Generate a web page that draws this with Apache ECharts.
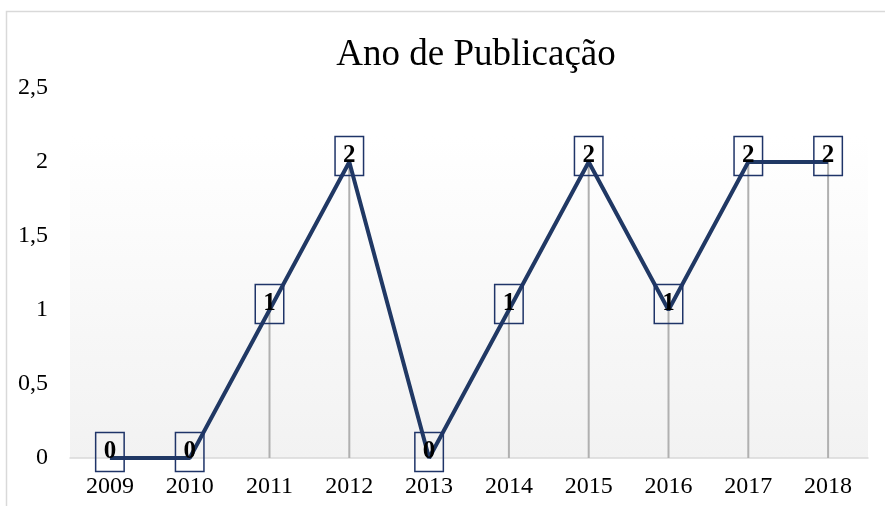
<!DOCTYPE html>
<html>
<head>
<meta charset="utf-8">
<script src="https://cdn.jsdelivr.net/npm/echarts@6/dist/echarts.min.js"></script>
<style>
  html, body { margin: 0; padding: 0; background: #fff; }
  #chart { width: 885px; height: 506px; }
</style>
</head>
<body>
<div id="chart"></div>
<script>
  // dados
  var years = ['2009', '2010', '2011', '2012', '2013', '2014', '2015', '2016', '2017', '2018']
  var counts = [0, 0, 1, 2, 0, 1, 2, 1, 2, 2]
  var yTicks = [0, 0.5, 1, 1.5, 2, 2.5]

  var serif = '"Liberation Serif", "DejaVu Serif", serif'
  var navy = '#203864'

  var chart = echarts.init(document.getElementById('chart'), null, { renderer: 'canvas' })

  var option = {
    animation: false,
    backgroundColor: '#fff',
    title: {
      text: 'Ano de Publicação',
      left: 471,
      top: 32,
      textAlign: 'center',
      textStyle: {
        fontFamily: serif,
        fontSize: 37,
        fontWeight: 'normal',
        color: '#000'
      }
    },
    graphic: [
      {
        type: 'rect',
        shape: { x: 6.5, y: 11.5, width: 900, height: 520 },
        style: { fill: null, stroke: '#d9d9d9', lineWidth: 1.5 },
        z: -10
      }
    ],
    grid: {
      left: 70,
      right: 17,
      top: 88,
      bottom: 48,
      show: true,
      borderWidth: 0,
      backgroundColor: new echarts.graphic.LinearGradient(0, 0, 0, 1, [
        { offset: 0, color: '#ffffff' },
        { offset: 0.13, color: '#ffffff' },
        { offset: 1, color: '#f2f2f2' }
      ])
    },
    xAxis: {
      type: 'category',
      data: years,
      boundaryGap: true,
      axisLine: { lineStyle: { color: '#d9d9d9', width: 1.5 } },
      axisTick: { show: false },
      axisLabel: {
        fontFamily: serif,
        fontSize: 24,
        color: '#000',
        margin: 17
      }
    },
    yAxis: {
      type: 'value',
      min: yTicks[0],
      max: yTicks[yTicks.length - 1],
      interval: 0.5,
      splitLine: { show: false },
      axisLine: { show: false },
      axisTick: { show: false },
      axisLabel: {
        fontFamily: serif,
        fontSize: 24,
        color: '#000',
        margin: 22,
        formatter: function (v) { return String(v).replace('.', ',') }
      }
    },
    series: [
      {
        // linhas de queda até o eixo
        type: 'bar',
        data: counts,
        barWidth: 2,
        itemStyle: { color: '#b0b0b0' },
        silent: true,
        z: 1
      },
      {
        type: 'line',
        data: counts,
        showSymbol: true,
        symbol: 'circle',
        symbolSize: 0,
        itemStyle: { color: navy },
        lineStyle: { color: navy, width: 4 },
        z: 3,
        label: {
          show: true,
          position: 'inside',
          offset: [0, -6],
          fontFamily: serif,
          fontSize: 25,
          fontWeight: 'bold',
          color: '#000',
          borderColor: '#1f3468',
          borderWidth: 1.5,
          padding: [7, 8, 7, 8]
        }
      }
    ]
  }

  chart.setOption(option)
</script>
</body>
</html>
